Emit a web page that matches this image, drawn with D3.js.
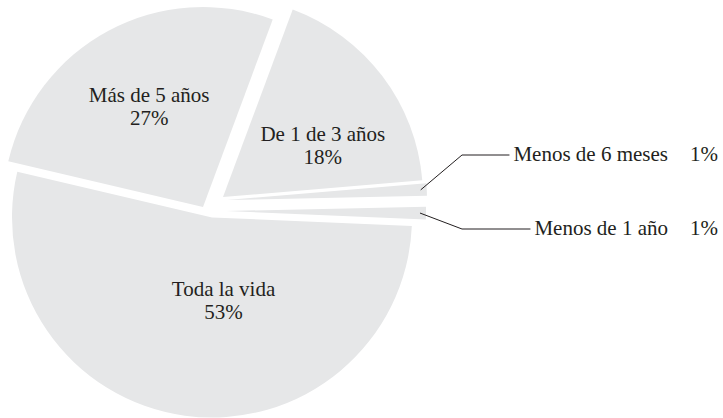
<!DOCTYPE html>
<html>
<head>
<meta charset="utf-8">
<script src="https://cdn.jsdelivr.net/npm/d3@7"></script>
<style>
  body { margin: 0; background: #fff; }
  svg text { font-family: "Liberation Serif", "DejaVu Serif", serif; fill: #231f20; }
</style>
</head>
<body>
<div id="chart"></div>
<script>
// data
var categories = ["Toda la vida", "Más de 5 años", "De 1 de 3 años", "Menos de 6 meses", "Menos de 1 año"];
var shares = [53, 27, 18, 1, 1];
var shareLabels = ["53%", "27%", "18%", "1%", "1%"];

// layout
var width = 723, height = 418;
var cx = 212, cy = 217.5, radius = 200;
var startDeg = 92.4;
var fontSize = 21;
// how far each slice is pulled out of the pie (dx, dy)
var sliceShift = [[0, 0], [-9, -10.5], [11, -20.5], [15, -17.5], [14, -6.5]];
// inside labels: nudge from the arc centroid
var labelNudge = [[27, -30], [0, -1], [9, 17], null, null];
// callouts for the thin slices: y of the label row
var calloutY = { 3: 155, 4: 229 };
var elbowX = 462, pctX = 690;

var svg = d3.select("#chart").append("svg")
  .attr("width", width)
  .attr("height", height);

var g = svg.append("g")
  .attr("transform", "translate(" + cx + "," + cy + ")");

var pie = d3.pie()
  .sort(null)
  .value(function (d) { return d; })
  .startAngle(startDeg * Math.PI / 180)
  .endAngle(startDeg * Math.PI / 180 + 2 * Math.PI);

var arcs = pie(shares);

var arc = d3.arc().innerRadius(0).outerRadius(radius);
var labelArc = d3.arc().innerRadius(radius * 0.57).outerRadius(radius * 0.57);
var edgeArc = d3.arc().innerRadius(radius * 0.97).outerRadius(radius * 0.97);

var slices = g.selectAll("g.slice")
  .data(arcs)
  .enter().append("g")
  .attr("class", "slice")
  .attr("transform", function (d, i) { return "translate(" + sliceShift[i][0] + "," + sliceShift[i][1] + ")"; });

slices.append("path")
  .attr("d", arc)
  .attr("fill", "#e6e7e8");

// labels inside the big slices
slices.filter(function (d, i) { return labelNudge[i] != null; })
  .each(function (d) {
    var idx = arcs.indexOf(d);
    var c = labelArc.centroid(d);
    var x = c[0] + labelNudge[idx][0], y = c[1] + labelNudge[idx][1];
    var t = d3.select(this).append("text")
      .attr("text-anchor", "middle")
      .attr("font-size", fontSize);
    t.append("tspan").attr("x", x).attr("y", y - 4).text(categories[idx]);
    t.append("tspan").attr("x", x).attr("y", y + 19).text(shareLabels[idx]);
  });

// callouts for the thin slices
arcs.forEach(function (d, i) {
  if (calloutY[i] === undefined) return;
  var p = edgeArc.centroid(d);
  var x0 = p[0] + sliceShift[i][0] + cx, y0 = p[1] + sliceShift[i][1] + cy;
  var ly = calloutY[i];

  var txt = svg.append("text")
    .attr("font-size", fontSize)
    .attr("y", ly + 6)
    .text(categories[i]);
  var tw = txt.node().getComputedTextLength();
  var textX = pctX - 22 - tw;
  txt.attr("x", textX);

  svg.append("polyline")
    .attr("points", [[x0, y0], [elbowX, ly], [textX - 4, ly]].map(function (q) { return q.join(","); }).join(" "))
    .attr("fill", "none")
    .attr("stroke", "#231f20")
    .attr("stroke-width", 1);

  svg.append("text")
    .attr("font-size", fontSize)
    .attr("x", pctX)
    .attr("y", ly + 6)
    .text(shareLabels[i]);
});
</script>
</body>
</html>
